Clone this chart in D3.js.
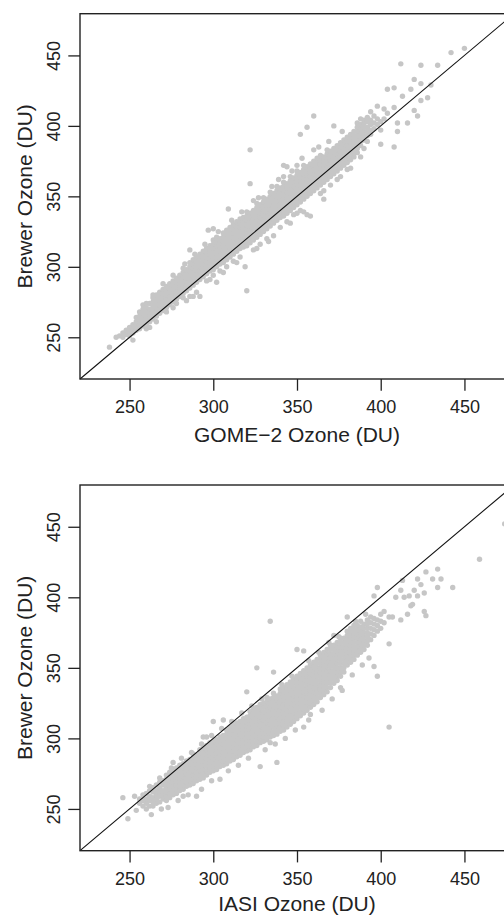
<!DOCTYPE html>
<html><head><meta charset="utf-8">
<script src="https://cdn.jsdelivr.net/npm/d3@7/dist/d3.min.js"></script>
<style>body{margin:0;background:#fff;}svg{display:block;}</style>
</head><body>
<svg id="chart" width="504" height="917"></svg>
<script>
// ---- data ----
const tickValues = [250, 300, 350, 400, 450];
const yLabel = "Brewer Ozone (DU)";
const xLabelTop = "GOME\u22122 Ozone (DU)";
const xLabelBottom = "IASI Ozone (DU)";

// GOME-2 value, followed by the Brewer values seen at that GOME-2 value
const gomeVsBrewer = [
 [238,[243]],[242,[250]],[244,[251]],[246,[250,253]],[248,[252,255]],
 [250,[251,254,257]],[252,[248,253,256,259]],[254,[255,258,261,264]],
 [256,[256,259,262,265,268]],[258,[258,261,264,267,270,273]],
 [260,[256,259,262,265,268,271,274]],[262,[257,261,264,267,270,274]],
 [264,[263,266,269,272,275,278,280]],[266,[261,265,268,271,274,277,280]],
 [268,[267,270,273,276,279,282]],[270,[269,272,275,278,281,284,288]],
 [272,[268,271,274,277,280,283,286]],[274,[273,276,279,282,285,288]],
 [276,[271,275,278,281,284,287,290,294]],[278,[274,277,280,283,286,289,292]],
 [280,[279,282,285,288,291,294]],[282,[278,281,284,287,290,293,296,299]],
 [283,[302]],[284,[276,283,286,289,292,295,298]],[286,[279,285,288,291,294,297,300,303,312]],
 [288,[279,287,290,293,296,299,302,305]],[289,[309]],[290,[282,289,292,295,298,301,304,307]],
 [292,[279,291,294,297,300,303,306,309]],[294,[293,296,299,302,305,308,311]],
 [295,[316]],[296,[290,295,298,301,304,307,310,313]],[297,[326]],[298,[291,297,300,303,306,309,312,315]],
 [300,[294,298,301,304,307,310,313,316,319,327]],[302,[289,300,303,306,309,312,315,318,321]],
 [303,[325]],[304,[297,302,305,308,311,314,317,320]],[306,[296,303,306,309,312,315,318,321,324]],
 [308,[300,305,308,311,314,317,320,323,326]],[309,[341]],[310,[307,310,313,316,319,322,325,328]],
 [311,[333]],[312,[304,309,312,315,318,321,324,327,330]],[314,[303,311,314,317,320,323,326,329,332]],
 [316,[307,313,316,319,322,325,328,331,334]],[317,[339]],[318,[314,317,320,323,326,329,332,335]],
 [319,[300]],[320,[283,315,318,321,324,327,330,333,336,339]],
 [322,[317,320,323,326,329,332,335,338,359,383]],[324,[312,319,322,325,328,331,334,337,340,347]],
 [326,[313,321,324,327,330,333,336,339,342,345]],[327,[349]],[328,[316,323,326,329,332,335,338,341,344]],
 [330,[325,328,331,334,337,340,343,346,349]],[332,[320,327,330,333,336,339,342,345,348]],
 [333,[318]],[334,[329,332,335,338,341,344,347,350,353]],[335,[357]],[336,[322,331,334,337,340,343,346,349,352]],
 [338,[333,336,339,342,345,348,351,354,357]],[339,[362]],[340,[328,335,338,341,344,347,350,353,356]],
 [342,[336,339,342,345,348,351,354,357,360,364,372]],[344,[332,338,341,344,347,350,353,356,359,371]],
 [346,[331,340,343,346,349,352,355,358,361,364]],[347,[368]],[348,[337,342,345,348,351,354,357,360,363]],
 [350,[338,344,347,350,353,356,359,362,365,368,372]],[352,[340,346,349,352,355,358,361,364,367,394]],
 [353,[377]],[354,[339,348,351,354,357,360,363,366,369,372]],[356,[337,350,353,356,359,362,365,368,371,399]],
 [358,[336,352,355,358,361,364,367,370,373]],[360,[354,357,360,363,366,369,372,375,383,407]],
 [362,[356,359,362,365,368,371,374,377]],[363,[385]],[364,[352,358,361,364,367,370,373,376,379]],
 [366,[348,354,360,363,366,369,372,375,378]],[368,[362,365,368,371,374,377,380,383]],
 [369,[389]],[370,[358,364,367,370,373,376,379,382]],[372,[366,369,372,375,378,381,384,400]],
 [374,[362,368,371,374,377,380,383,386]],[376,[364,370,373,376,379,382,385,388]],
 [377,[396]],[378,[372,375,378,381,384,387,390]],[380,[369,374,377,380,383,386,389,392]],
 [382,[370,376,379,382,385,388,391,394]],[384,[378,381,384,387,390,393,396]],
 [386,[381,384,387,390,393,396,399,402]],[388,[378,386,389,392,395,398,401,405]],
 [390,[384,390,393,396,399,402,404]],[392,[389,393,396,399,403,406]],
 [394,[394,397,401,404,410]],[396,[398,402,407]],[398,[401,405,414]],
 [400,[387,397,403]],[402,[405,412]],[404,[409,426]],[408,[385,413,427]],
 [410,[396,402]],[412,[444]],[413,[421]],[416,[402]],[418,[426]],
 [420,[411,433]],[422,[407]],[424,[418,430,443]],[428,[420]],[430,[429]],
 [434,[443]],[442,[452]],[450,[455]]
];

// IASI value, followed by the Brewer values seen at that IASI value
const iasiVsBrewer = [
 [246,[258]],[249,[243]],[253,[259]],[254,[249]],[256,[254,257]],
 [258,[252,256,260]],[260,[250,254,257,261]],[262,[252,256,259,263,266]],
 [263,[246]],[264,[252,255,258,262,265]],[266,[254,257,260,263,267]],[268,[255,259,262,265,269,272]],
 [269,[250]],[270,[257,260,263,267,270]],[272,[256,259,262,265,268,271,274]],
 [273,[251]],[274,[258,261,264,267,270,273,276]],[275,[279]],[276,[260,263,266,269,272,275,278,283]],
 [278,[261,264,267,270,273,276,279]],[279,[256]],[280,[263,266,269,272,275,278,281]],
 [281,[286]],[282,[259,264,267,270,273,276,279,282]],[284,[266,269,272,275,278,281,284]],
 [285,[260]],[286,[267,270,273,276,279,282,285]],[287,[290]],[288,[268,271,274,277,280,283,286,289]],
 [290,[259,270,273,276,279,282,285,288]],[292,[271,274,277,280,283,286,289,292]],
 [293,[264,296]],[294,[272,275,278,281,284,287,290,293,301]],[296,[274,277,280,283,286,289,292,295,301]],
 [298,[276,279,282,285,288,291,294,297]],[299,[270,302]],[300,[277,280,283,286,289,292,295,298,312]],
 [302,[278,281,284,287,290,293,296,299]],[304,[271,280,283,286,289,292,295,298,301]],
 [305,[307]],[306,[281,284,287,290,293,296,299,302,313]],[308,[282,285,288,291,294,297,300,303,306]],
 [309,[277]],[310,[284,287,290,293,296,299,302,305,308]],[311,[312]],[312,[285,288,291,294,297,300,303,306,309]],
 [314,[287,290,293,296,299,302,305,308,311]],[315,[281]],[316,[288,291,294,297,300,303,306,309,312]],
 [317,[318]],[318,[290,293,296,299,302,305,308,311,314]],[320,[291,294,297,300,303,306,309,312,315,333]],
 [321,[286]],[322,[292,295,298,301,304,307,310,313,316,319]],[323,[323]],[324,[294,297,300,303,306,309,312,315,318,321]],
 [326,[295,298,301,304,307,310,313,316,319,322,350]],[328,[280,297,300,303,306,309,312,315,318,321,324]],
 [329,[328]],[330,[298,301,304,307,310,313,316,319,322,325]],[331,[292]],[332,[299,302,305,308,311,314,317,320,323,326,329]],
 [334,[297,301,304,307,310,313,316,319,322,325,328,383]],[336,[302,305,308,311,314,317,320,323,326,329,332,347]],
 [337,[296]],[338,[283,303,306,309,312,315,318,321,324,327,330]],[340,[305,308,311,314,317,320,323,326,329,332,335]],
 [341,[338]],[342,[306,309,312,315,318,321,324,327,330,333,336]],[343,[300]],[344,[308,311,314,317,320,323,326,329,332,335,338]],
 [346,[310,313,316,319,322,325,328,331,334,337,340]],[347,[344]],[348,[312,315,318,321,324,327,330,333,336,339,342]],
 [349,[306]],[350,[314,317,320,323,326,329,332,335,338,341,344,363]],[352,[316,319,322,325,328,331,334,337,340,343,346]],
 [354,[308,318,321,324,327,330,333,336,339,342,345,348,362]],[356,[320,323,326,329,332,335,338,341,344,347,350]],
 [357,[313,355]],[358,[317,322,325,328,331,334,337,340,343,346,349,352]],[360,[324,327,330,333,336,339,342,345,348,351,354]],
 [362,[326,329,332,335,338,341,344,347,350,353,356]],[363,[361]],[364,[329,332,335,338,341,344,347,350,353,356,359]],
 [365,[320]],[366,[331,334,337,340,343,346,349,352,355,358,361]],[368,[333,336,339,342,345,348,351,354,357,360,363]],
 [369,[368]],[370,[336,339,342,345,348,351,354,357,360,363,366]],[371,[328]],[372,[339,342,345,348,351,354,357,360,363,366,373]],
 [374,[341,344,347,350,353,356,359,362,365,368]],[375,[372]],[376,[336,344,347,350,353,356,359,362,365,368,371]],
 [377,[334]],[378,[347,350,353,356,359,362,365,368,371]],[380,[352,355,358,361,364,367,370,373,376,386]],
 [382,[354,357,360,363,366,369,372,375,378]],[383,[345]],[384,[356,359,362,365,368,371,374,377,380]],
 [385,[383]],[386,[359,362,365,368,371,374,377,380]],[388,[361,364,367,370,373,376,379,383]],
 [389,[352]],[390,[363,366,369,372,375,378,381]],[391,[388]],[392,[366,369,372,375,378,381,384]],
 [393,[357]],[394,[370,374,378,382,386]],[396,[351,373,377,381,385,401]],[398,[344,376,380,384,407]],
 [400,[378,383,388]],[402,[382,390]],[405,[308,367,386]],[407,[386]],[409,[400]],
 [412,[384,405]],[413,[412]],[414,[400]],[416,[388]],[417,[401]],[418,[394]],
 [419,[395]],[420,[405]],[422,[401,413]],[424,[409]],[426,[390,403]],[427,[387,418]],
 [431,[413]],[434,[407,420]],[436,[413]],[443,[407]],[459,[427]],[474,[452]]
];

// ---- drawing ----
const svg = d3.select("#chart");
const fontFam = "'Liberation Sans', Arial, Helvetica, sans-serif";
const domain = [220.4, 479.6];
const x = d3.scaleLinear().domain(domain).range([80, 514]);

const panels = [
  {rows: gomeVsBrewer, xLabel: xLabelTop, top: 13.7, bottom: 379, labelY: 442},
  {rows: iasiVsBrewer, xLabel: xLabelBottom, top: 485, bottom: 850.7, labelY: 911}
];

panels.forEach(p => {
  const y = d3.scaleLinear().domain(domain).range([p.bottom, p.top]);
  const pts = p.rows.flatMap(([xv, ys]) => ys.map(yv => [xv, yv]));
  const g = svg.append("g");

  g.append("g").selectAll("circle").data(pts).join("circle")
    .attr("cx", d => x(d[0])).attr("cy", d => y(d[1]))
    .attr("r", 2.7).attr("fill", "#c6c6c6");

  g.append("line")
    .attr("x1", x(domain[0])).attr("y1", y(domain[0]))
    .attr("x2", x(domain[1])).attr("y2", y(domain[1]))
    .attr("stroke", "#111").attr("stroke-width", 1.1);

  g.append("rect")
    .attr("x", x(domain[0])).attr("y", p.top)
    .attr("width", x(domain[1]) - x(domain[0])).attr("height", p.bottom - p.top)
    .attr("fill", "none").attr("stroke", "#222").attr("stroke-width", 1.4);

  const xa = g.append("g").attr("transform", `translate(0,${p.bottom})`)
    .call(d3.axisBottom(x).tickValues(tickValues).tickSize(11.7).tickSizeOuter(0));
  xa.select(".domain").remove();
  xa.selectAll(".tick line").attr("stroke", "#222").attr("stroke-width", 1.3);
  xa.selectAll(".tick text").attr("y", 34.3).attr("dy", 0)
    .attr("fill", "#222").style("font-family", fontFam).style("font-size", "18px");

  const ya = g.append("g").attr("transform", `translate(80,0)`)
    .call(d3.axisLeft(y).tickValues(tickValues).tickSize(11.7).tickSizeOuter(0));
  ya.select(".domain").remove();
  ya.selectAll(".tick line").attr("stroke", "#222").attr("stroke-width", 1.3);
  ya.selectAll(".tick text").attr("x", 0).attr("dy", 0)
    .attr("text-anchor", "middle").attr("transform", "translate(-20,0) rotate(-90)")
    .attr("fill", "#222").style("font-family", fontFam).style("font-size", "18px");

  g.append("text").attr("x", (x(domain[0]) + x(domain[1])) / 2).attr("y", p.labelY)
    .attr("text-anchor", "middle").attr("fill", "#222")
    .style("font-family", fontFam).style("font-size", "21px").text(p.xLabel);

  g.append("text")
    .attr("transform", `translate(31.5,${(p.top + p.bottom) / 2}) rotate(-90)`)
    .attr("text-anchor", "middle").attr("fill", "#222")
    .style("font-family", fontFam).style("font-size", "21px").text(yLabel);
});
</script>
</body></html>
